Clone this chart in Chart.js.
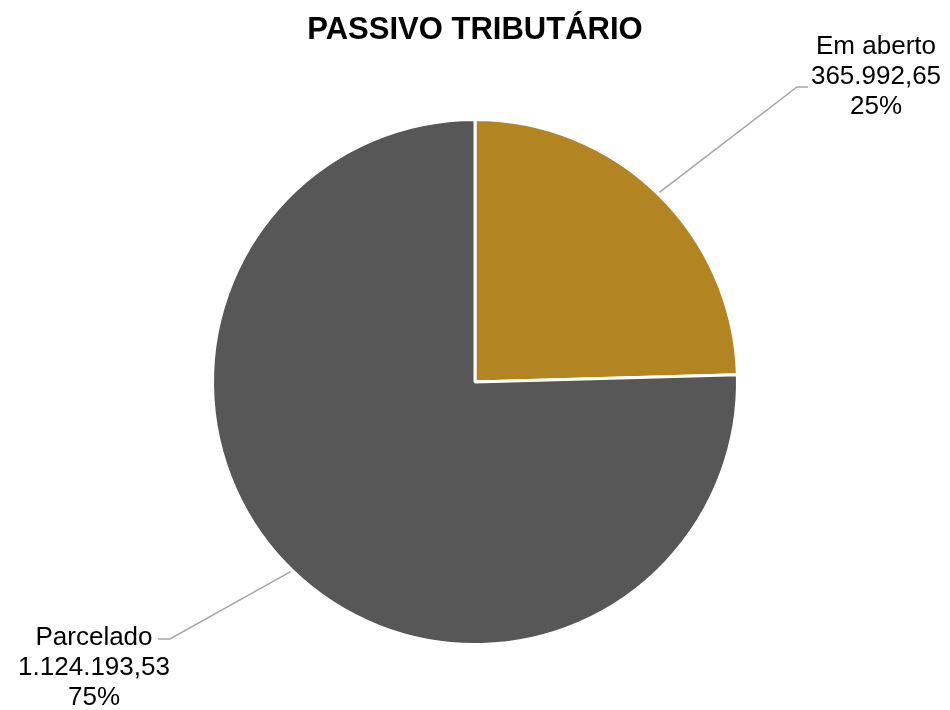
<!DOCTYPE html>
<html>
<head>
<meta charset="utf-8">
<script src="https://cdn.jsdelivr.net/npm/chart.js@4/dist/chart.umd.min.js"></script>
<style>
  html, body { margin: 0; padding: 0; background: #fff; }
  #wrap { width: 950px; height: 710px; }
</style>
</head>
<body>
<div id="wrap"><canvas id="chart" width="950" height="710"></canvas></div>
<script>
const title = 'PASSIVO TRIBUTÁRIO';
const categories = ['Em aberto', 'Parcelado'];
const values = [365992.65, 1124193.53];
const valueLabels = ['365.992,65', '1.124.193,53'];
const percentLabels = ['25%', '75%'];
const colors = ['#b38422', '#575757'];

// where the label block and leader elbow sit for each slice
const labelSpots = [
  { x: 876, y: 47, elbowX: 797, elbowY: 87, endX: 808 },
  { x: 94, y: 638, elbowX: 170, elbowY: 639, endX: 158 },
];

const calloutPlugin = {
  id: 'callouts',
  afterDatasetsDraw(chart) {
    const ctx = chart.ctx;
    const arcs = chart.getDatasetMeta(0).data;
    arcs.forEach((arc, i) => {
      const mid = (arc.startAngle + arc.endAngle) / 2;
      const r = arc.outerRadius + 2;
      const sx = arc.x + Math.cos(mid) * r;
      const sy = arc.y + Math.sin(mid) * r;
      const spot = labelSpots[i];

      ctx.save();
      ctx.strokeStyle = '#a6a6a6';
      ctx.lineWidth = 1.5;
      ctx.beginPath();
      ctx.moveTo(sx, sy);
      ctx.lineTo(spot.elbowX, spot.elbowY);
      ctx.lineTo(spot.endX, spot.elbowY);
      ctx.stroke();

      ctx.fillStyle = '#000';
      ctx.font = '26px "Liberation Sans", Arial, sans-serif';
      ctx.textAlign = 'center';
      ctx.textBaseline = 'middle';
      const lines = [categories[i], valueLabels[i], percentLabels[i]];
      lines.forEach((txt, k) => ctx.fillText(txt, spot.x, spot.y + k * 30));
      ctx.restore();
    });
  }
};

new Chart(document.getElementById('chart'), {
  type: 'pie',
  data: {
    labels: categories,
    datasets: [{
      data: values,
      backgroundColor: colors,
      borderColor: '#ffffff',
      borderWidth: 3,
    }]
  },
  options: {
    responsive: false,
    animation: false,
    layout: { padding: { top: 0, bottom: 64, left: 211, right: 211 } },
    plugins: {
      legend: { display: false },
      tooltip: { enabled: false },
      title: {
        display: true,
        text: title,
        color: '#000',
        font: { family: '"Liberation Sans", Arial, sans-serif', size: 31, weight: 'bold' },
        padding: { top: 12, bottom: 68.8 },
      },
    },
  },
  plugins: [calloutPlugin],
});
</script>
</body>
</html>
